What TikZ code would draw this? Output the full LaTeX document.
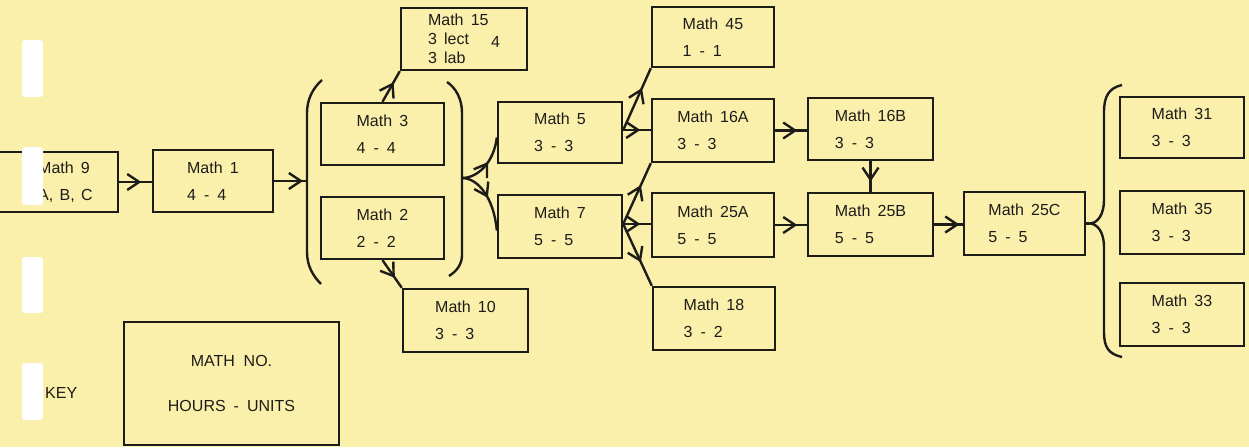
\documentclass[tikz,border=0pt]{standalone}
\usepackage{fontspec}
\setmainfont{Liberation Sans}
\usetikzlibrary{arrows.meta,decorations.markings,calc}
\definecolor{paper}{RGB}{250,240,172}
\definecolor{ink}{RGB}{30,28,24}
\newcommand\MN[1]{Math\hspace{.45em}#1}
\newcommand\HU[2]{#1\hspace{.5em}-\hspace{.5em}#2}
\begin{document}
\begin{tikzpicture}[x=1pt,y=-1pt,
  box/.style={draw=ink,line width=2.4pt,rectangle,inner sep=0pt,align=left,
    text=ink,font=\fontsize{16}{27}\selectfont},
  link/.style={draw=ink,line width=2.4pt,line join=round},
  midarr/.style={postaction={decorate},decoration={markings,
    mark=at position #1 with {\arrow{Straight Barb[length=12pt,width=16pt]}}}}]
\fill[paper] (0,0) rectangle (1249,447);
\useasboundingbox (0,0) rectangle (1249,447);
\clip (0,0) rectangle (1249,447);

% boxes
\node[box,minimum width=121pt,minimum height=60pt] (m9) at (57.5,182) {\hspace*{16pt}\MN{9}\\\hspace*{16pt}A,\hspace{.4em}B,\hspace{.4em}C};
\node[box,minimum width=120pt,minimum height=62pt] (m1) at (213,181) {\MN{1}\\\HU{4}{4}};
\node[box,minimum width=123pt,minimum height=62pt] (m3) at (382.5,134) {\MN{3}\\\HU{4}{4}};
\node[box,minimum width=123pt,minimum height=62pt] (m2) at (382.5,228) {\MN{2}\\\HU{2}{2}};
\node[box,minimum width=126pt,minimum height=62pt,font=\fontsize{16}{19}\selectfont] (m15) at (464,39) {\MN{15}\\3\hspace{.45em}lect\hspace{22pt}\raisebox{-3pt}{4}\\3\hspace{.45em}lab};
\node[box,minimum width=125pt,minimum height=63pt] (m10) at (465.5,320.5) {\MN{10}\\\HU{3}{3}};
\node[box,minimum width=124pt,minimum height=61pt] (m5) at (560,132.5) {\MN{5}\\\HU{3}{3}};
\node[box,minimum width=124pt,minimum height=63pt] (m7) at (560,226.5) {\MN{7}\\\HU{5}{5}};
\node[box,minimum width=122pt,minimum height=60pt] (m45) at (713,37) {\MN{45}\\\HU{1}{1}};
\node[box,minimum width=122pt,minimum height=63pt] (m16a) at (713,130.5) {\MN{16A}\\\HU{3}{3}};
\node[box,minimum width=122pt,minimum height=64pt] (m25a) at (713,225) {\MN{25A}\\\HU{5}{5}};
\node[box,minimum width=122pt,minimum height=63pt] (m18) at (714,318.5) {\MN{18}\\\HU{3}{2}};
\node[box,minimum width=125pt,minimum height=62pt] (m16b) at (870.5,129) {\MN{16B}\\\HU{3}{3}};
\node[box,minimum width=125pt,minimum height=63pt] (m25b) at (870.5,224.5) {\MN{25B}\\\HU{5}{5}};
\node[box,minimum width=121pt,minimum height=63pt] (m25c) at (1024.5,223.5) {\MN{25C}\\\HU{5}{5}};
\node[box,minimum width=124pt,minimum height=61pt] (m31) at (1182,127.5) {\MN{31}\\\HU{3}{3}};
\node[box,minimum width=124pt,minimum height=63pt] (m35) at (1182,222.5) {\MN{35}\\\HU{3}{3}};
\node[box,minimum width=124pt,minimum height=63pt] (m33) at (1182,314.5) {\MN{33}\\\HU{3}{3}};
\node[box,minimum width=215pt,minimum height=123pt,align=center,font=\fontsize{16}{45}\selectfont] (key) at (231.5,383.5) {MATH\hspace{.55em}NO.\\HOURS\hspace{.5em}-\hspace{.5em}UNITS};
\node[anchor=west,text=ink,font=\fontsize{16}{19}\selectfont,inner sep=0pt] (keylbl) at (45,393) {KEY};

% brackets
\coordinate (lp) at (307,181);
\coordinate (rp) at (462,178);
\draw[link] (322,80) .. controls (313,88) and (307,99) .. (307,113) -- (307,252) .. controls (307,266) and (313,276) .. (321,284);
\draw[link] (447,82) .. controls (456,88) and (462,99) .. (462,113) -- (462,255) .. controls (462,264) and (457,271) .. (449,276);
\coordinate (bt) at ([xshift=3pt]m25c.east);
\draw[link] (1122,85) .. controls (1109,88) and (1104,96) .. (1104,112) -- (1104,200) .. controls (1104,214) and (1098,223.5) .. (bt) .. controls (1098,223.5) and (1104,233) .. (1104,247) -- (1104,332) .. controls (1104,348) and (1109,354) .. (1122,357);
\draw[link] (m25c.east) -- (bt);

% connectors
\draw[link,midarr=0.68] (m9.east) -- (m9.east -| m1.west);
\draw[link,midarr=0.88] (m1.east) -- (lp);
\draw[link,midarr=0.64] (m3.north) -- (m15.south west);
\draw[link,midarr=0.64] (m2.south) -- (m10.north west);
\draw[link,midarr=0.55] (rp) .. controls (478,178) and (494,162) .. ([yshift=-5pt]m5.west);
\draw[link,midarr=0.5] (rp) .. controls (478,178) and (494,198) .. ([yshift=-4pt]m7.west);
\coordinate (o5) at ([yshift=2.5pt]m5.east);
\coordinate (o7) at ([yshift=2.5pt]m7.east);
\draw[link,midarr=0.68] (o5) -- (m45.south west);
\draw[link,midarr=0.62] (o5) -- (o5 -| m16a.west);
\draw[link,midarr=0.64] (o7) -- (m16a.south west);
\draw[link,midarr=0.62] (o7) -- (o7 -| m25a.west);
\draw[link,midarr=0.62] (o7) -- (m18.north west);
\draw[link,midarr=0.7] (m16a.east) -- (m16a.east -| m16b.west);
\draw[link,midarr=0.67] (m16b.south) -- (m16b.south |- m25b.north);
\draw[link,midarr=0.7] (m25a.east) -- (m25a.east -| m25b.west);
\draw[link,midarr=0.88] (m25b.east) -- (m25b.east -| m25c.west);

% white punch marks
\fill[white,rounded corners=3pt] (22,40) rectangle (43,97);
\fill[white,rounded corners=3pt] (22,147) rectangle (43,205);
\fill[white,rounded corners=3pt] (22,257) rectangle (43,313);
\fill[white,rounded corners=3pt] (22,363) rectangle (43,420);
\end{tikzpicture}
\end{document}
